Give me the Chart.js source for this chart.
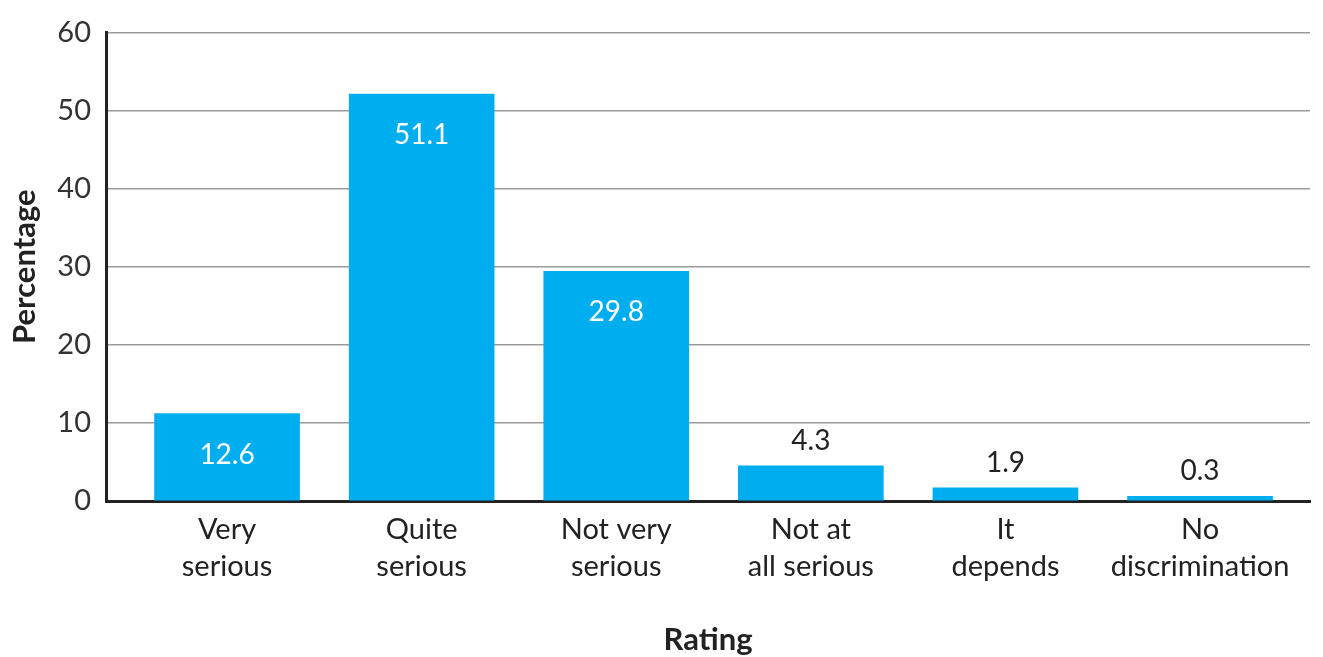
<!DOCTYPE html>
<html>
<head>
<meta charset="utf-8">
<script src="https://cdn.jsdelivr.net/npm/chart.js@4.4.0/dist/chart.umd.min.js"></script>
<style>
  html, body { margin: 0; padding: 0; background: #fff; }
  #wrap { width: 1323px; height: 657px; }
</style>
</head>
<body>
<div id="wrap"><canvas id="chart"></canvas></div>
<script>
// categories (multi-line labels) and values as drawn
const categories = [
    ['Very', 'serious'],
    ['Quite', 'serious'],
    ['Not very', 'serious'],
    ['Not at', 'all serious'],
    ['It', 'depends'],
    ['No', 'discrimination']
];
const barHeights = [11.2, 52.1, 29.4, 4.5, 1.7, 0.6];
const valueLabels = ['12.6', '51.1', '29.8', '4.3', '1.9', '0.3'];
const yTicks = [0, 10, 20, 30, 40, 50, 60];

const FONT = 'Lato, "Open Sans", sans-serif';
const BLUE = '#00aeef';
const TEXT = '#222222';

// draws the numbers in / above the bars
const valueLabelPlugin = {
    id: 'valueLabels',
    afterDatasetsDraw(chart) {
        const ctx = chart.ctx;
        const meta = chart.getDatasetMeta(0);
        ctx.save();
        ctx.font = '28px ' + FONT;
        ctx.textAlign = 'center';
        ctx.textBaseline = 'middle';
        meta.data.forEach((bar, i) => {
            if (barHeights[i] > 10) {
                ctx.fillStyle = '#ffffff';
                ctx.fillText(valueLabels[i], bar.x, bar.y + 41);
            } else {
                ctx.fillStyle = TEXT;
                ctx.fillText(valueLabels[i], bar.x, bar.y - 25);
            }
        });
        ctx.restore();
    }
};

new Chart(document.getElementById('chart').getContext('2d'), {
    type: 'bar',
    data: {
        datasets: [{
            data: barHeights.map((v, i) => ({ x: i, y: v })),
            backgroundColor: BLUE,
            borderWidth: 0,
            barThickness: 145
        }]
    },
    options: {
        responsive: true,
        maintainAspectRatio: false,
        animation: false,
        layout: { padding: { top: 31, right: 13, left: 0, bottom: 0 } },
        plugins: {
            legend: { display: false },
            tooltip: { enabled: false }
        },
        scales: {
            x: {
                type: 'linear',
                offset: false,
                min: -0.622,
                max: 5.565,
                afterFit(scale) { scale.height = 156; },
                afterBuildTicks(scale) { scale.ticks = categories.map((c, i) => ({ value: i })); },
                grid: { display: false, drawTicks: false, offset: false },
                border: { display: true, color: '#222', width: 3 },
                ticks: {
                    autoSkip: false,
                    maxRotation: 0,
                    padding: 11,
                    color: TEXT,
                    font: { family: FONT, size: 29, lineHeight: 1.25 },
                    callback: (v) => categories[v] || ''
                },
                title: {
                    display: true,
                    text: 'Rating',
                    color: TEXT,
                    font: { family: FONT, size: 31, weight: 'bold' },
                    padding: { top: 0, bottom: -2 }
                }
            },
            y: {
                min: 0,
                max: 60,
                afterFit(scale) { scale.width = 106; },
                afterBuildTicks(scale) { scale.ticks = yTicks.map(v => ({ value: v })); },
                grid: { color: '#9a9a9a', lineWidth: 1.5, drawTicks: false },
                border: { display: true, color: '#222', width: 3 },
                ticks: {
                    padding: 15,
                    color: '#333',
                    font: { family: FONT, size: 29 }
                },
                title: {
                    display: true,
                    text: 'Percentage',
                    color: TEXT,
                    font: { family: FONT, size: 31, weight: 'bold' },
                    padding: { top: 6, bottom: 0 }
                }
            }
        }
    },
    plugins: [valueLabelPlugin]
});
</script>
</body>
</html>
